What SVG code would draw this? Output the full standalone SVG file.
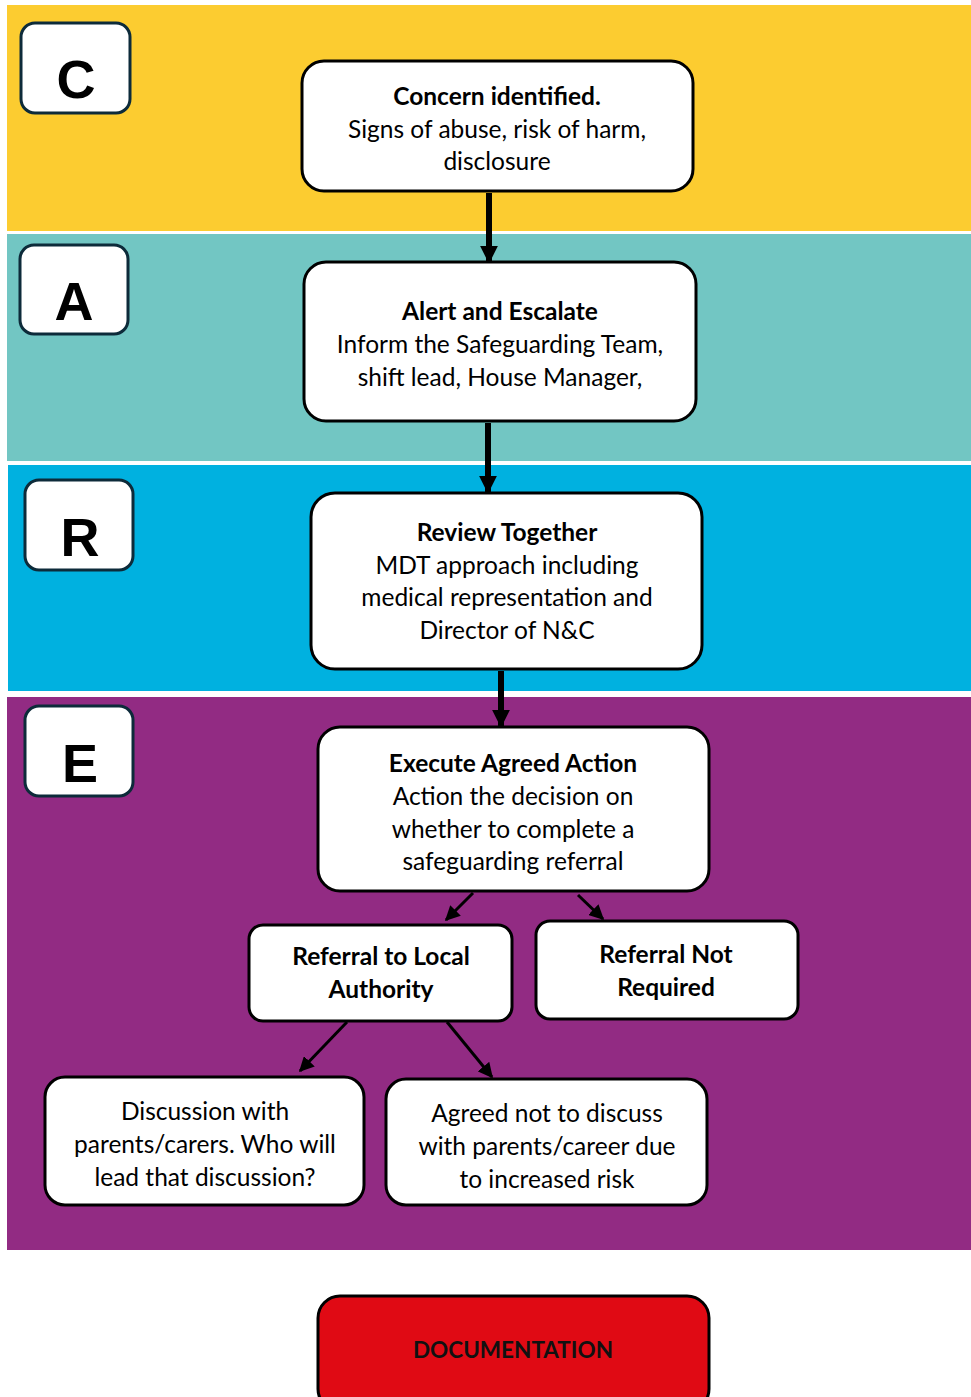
<svg xmlns="http://www.w3.org/2000/svg" width="971" height="1397" viewBox="0 0 971 1397">
<defs>
<style>
.band{stroke:none}
.letter{fill:#fff;stroke:#0d2b3a;stroke-width:3}
.lt{font-family:"Liberation Sans",Arial,sans-serif;font-weight:bold;font-size:54px;fill:#000;text-anchor:middle}
.node{fill:#fff;stroke:#000;stroke-width:3}
.t{font-family:Lato,"Noto Sans",sans-serif;font-size:24.5px;fill:#000;text-anchor:middle}
.b{font-weight:bold}
.thick{stroke:#000;stroke-width:6;fill:none}
.thin{stroke:#000;stroke-width:3;fill:none}
</style>
<marker id="ahBig" viewBox="0 0 10 10" refX="9" refY="5" markerWidth="3" markerHeight="3.2" orient="auto" markerUnits="strokeWidth">
<path d="M0,0 L10,5 L0,10 z" fill="#000"/>
</marker>
<marker id="ah" viewBox="0 0 10 10" refX="9" refY="5" markerWidth="5" markerHeight="5" orient="auto" markerUnits="strokeWidth">
<path d="M0,0 L10,5 L0,10 z" fill="#000"/>
</marker>
</defs>
<rect width="971" height="1397" fill="#fff"/>
<g id="bands">
<rect class="band" x="7" y="5" width="964" height="226" fill="#FCCC30" stroke="#FFC000" stroke-width="2"/>
<rect class="band" x="7" y="234" width="964" height="227" fill="#72C6C3"/>
<rect class="band" x="8" y="465" width="963" height="226" fill="#00B1E0"/>
<rect class="band" x="7" y="697" width="964" height="553" fill="#922B83"/>
</g>
<g id="letter-C"><rect class="letter" x="21" y="23" width="109" height="90" rx="14"/><text class="lt" x="76" y="98">C</text></g>
<g id="letter-A"><rect class="letter" x="20" y="245" width="108" height="89" rx="14"/><text class="lt" x="74" y="320">A</text></g>
<g id="letter-R"><rect class="letter" x="25" y="480" width="108" height="90" rx="14"/><text class="lt" x="80" y="556">R</text></g>
<g id="letter-E"><rect class="letter" x="25" y="706" width="108" height="90" rx="14"/><text class="lt" x="80" y="782">E</text></g>
<g id="connectors">
<line class="thick" x1="489" y1="193" x2="489" y2="262" marker-end="url(#ahBig)"/>
<line class="thick" x1="488" y1="423" x2="488" y2="492" marker-end="url(#ahBig)"/>
<line class="thick" x1="501" y1="671" x2="501" y2="726" marker-end="url(#ahBig)"/>
<line class="thin" x1="473" y1="893" x2="446" y2="920" marker-end="url(#ah)"/>
<line class="thin" x1="578" y1="895" x2="603" y2="919" marker-end="url(#ah)"/>
<line class="thin" x1="347" y1="1022" x2="300" y2="1071" marker-end="url(#ah)"/>
<line class="thin" x1="447" y1="1022" x2="492" y2="1077" marker-end="url(#ah)"/>
</g>
<g id="n-concern"><rect class="node" x="302" y="61" width="391" height="130" rx="22"/>
<text class="t b" x="497" y="105">Concern identified.</text>
<text class="t" x="497" y="138">Signs of abuse, risk of harm,</text>
<text class="t" x="497" y="170">disclosure</text></g>
<g id="n-alert"><rect class="node" x="304" y="262" width="392" height="159" rx="22"/>
<text class="t b" x="500" y="320">Alert and Escalate</text>
<text class="t" x="500" y="353">Inform the Safeguarding Team,</text>
<text class="t" x="500" y="386">shift lead, House Manager,</text></g>
<g id="n-review"><rect class="node" x="311" y="493" width="391" height="176" rx="24"/>
<text class="t b" x="507" y="541">Review Together</text>
<text class="t" x="507" y="574">MDT approach including</text>
<text class="t" x="507" y="606">medical representation and</text>
<text class="t" x="507" y="639">Director of N&amp;C</text></g>
<g id="n-execute"><rect class="node" x="318" y="727" width="391" height="164" rx="22"/>
<text class="t b" x="513" y="772">Execute Agreed Action</text>
<text class="t" x="513" y="805">Action the decision on</text>
<text class="t" x="513" y="838">whether to complete a</text>
<text class="t" x="513" y="870">safeguarding referral</text></g>
<g id="n-referral-la"><rect class="node" x="249" y="925" width="263" height="96" rx="14"/>
<text class="t b" x="381" y="965">Referral to Local</text>
<text class="t b" x="381" y="998">Authority</text></g>
<g id="n-not-required"><rect class="node" x="536" y="921" width="262" height="98" rx="14"/>
<text class="t b" x="666" y="963">Referral Not</text>
<text class="t b" x="666" y="996">Required</text></g>
<g id="n-discussion"><rect class="node" x="45" y="1077" width="319" height="128" rx="20"/>
<text class="t" x="205" y="1120">Discussion with</text>
<text class="t" x="205" y="1153">parents/carers. Who will</text>
<text class="t" x="205" y="1186">lead that discussion?</text></g>
<g id="n-agreed"><rect class="node" x="386" y="1079" width="321" height="126" rx="20"/>
<text class="t" x="547" y="1122">Agreed not to discuss</text>
<text class="t" x="547" y="1155">with parents/career due</text>
<text class="t" x="547" y="1188">to increased risk</text></g>
<g id="n-documentation"><rect x="318" y="1296" width="391" height="115" rx="22" fill="#E00A14" stroke="#000" stroke-width="3"/>
<text class="t b" x="513" y="1358" style="fill:#111;font-size:22.5px">DOCUMENTATION</text></g>
</svg>
